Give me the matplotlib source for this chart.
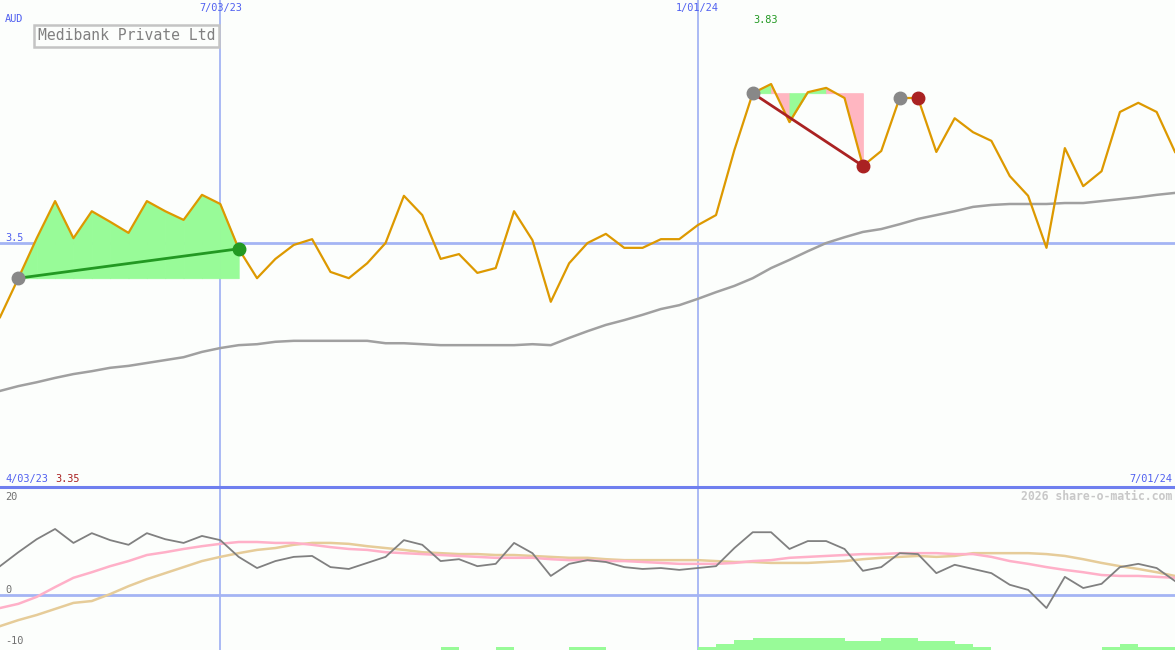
import numpy as np
import matplotlib
matplotlib.use("Agg")
import matplotlib.pyplot as plt
import matplotlib.transforms as mtrans

# Chart data (weekly points)
title = "Medibank Private Ltd"
currency = "AUD"
grid_dates = ["7/03/23", "1/01/24"]
grid_idx = [12, 38]
start_date, end_date = "4/03/23", "7/01/24"
copyright_txt = "2026 share-o-matic.com"

price = [3.346, 3.427, 3.510, 3.587, 3.510, 3.566, 3.544, 3.521, 3.587, 3.566,
         3.548, 3.600, 3.581, 3.488, 3.427, 3.467, 3.496, 3.508, 3.440, 3.427,
         3.458, 3.500, 3.598, 3.558, 3.467, 3.477, 3.438, 3.448, 3.566, 3.506,
         3.378, 3.458, 3.500, 3.519, 3.490, 3.490, 3.508, 3.508, 3.537, 3.558,
         3.693, 3.811, 3.830, 3.751, 3.813, 3.822, 3.801, 3.660, 3.691, 3.801,
         3.801, 3.689, 3.759, 3.730, 3.712, 3.639, 3.598, 3.490, 3.697, 3.618,
         3.649, 3.772, 3.791, 3.772, 3.689]

moving_avg = [3.193, 3.203, 3.211, 3.220, 3.228, 3.234, 3.241, 3.245, 3.251, 3.257,
              3.263, 3.274, 3.282, 3.288, 3.290, 3.295, 3.297, 3.297, 3.297, 3.297,
              3.297, 3.292, 3.292, 3.290, 3.288, 3.288, 3.288, 3.288, 3.288, 3.290,
              3.288, 3.303, 3.317, 3.330, 3.340, 3.351, 3.363, 3.371, 3.384, 3.398,
              3.411, 3.427, 3.448, 3.465, 3.483, 3.500, 3.512, 3.523, 3.529, 3.539,
              3.550, 3.558, 3.566, 3.575, 3.579, 3.581, 3.581, 3.581, 3.583, 3.583,
              3.587, 3.591, 3.595, 3.600, 3.604]

momentum = [6.2, 9.2, 12.0, 14.2, 11.2, 13.3, 11.8, 10.8, 13.3, 12.0,
            11.2, 12.7, 11.8, 8.2, 5.8, 7.3, 8.2, 8.4, 6.0, 5.6,
            6.9, 8.2, 11.8, 10.8, 7.3, 7.7, 6.2, 6.7, 11.2, 9.0,
            4.1, 6.7, 7.5, 7.1, 6.0, 5.6, 5.8, 5.4, 5.8, 6.2,
            10.1, 13.5, 13.5, 9.9, 11.6, 11.6, 9.9, 5.2, 6.0, 9.0,
            8.8, 4.7, 6.5, 5.6, 4.7, 2.2, 1.1, -2.8, 3.9, 1.5,
            2.4, 6.0, 6.7, 5.8, 3.0]

signal_fast = [-2.8, -1.9, -0.4, 1.7, 3.7, 4.9, 6.2, 7.3, 8.6, 9.2,
               9.9, 10.5, 11.0, 11.4, 11.4, 11.2, 11.2, 10.8, 10.3, 9.9,
               9.7, 9.2, 9.0, 8.8, 8.6, 8.4, 8.2, 8.0, 8.0, 8.0,
               7.7, 7.5, 7.5, 7.3, 7.3, 7.1, 6.9, 6.7, 6.7, 6.7,
               6.9, 7.3, 7.5, 8.0, 8.2, 8.4, 8.6, 8.8, 8.8, 9.0,
               9.0, 9.0, 8.8, 8.8, 8.2, 7.3, 6.7, 6.0, 5.4, 4.9,
               4.3, 4.1, 4.1, 3.9, 3.7]

signal_slow = [-6.7, -5.4, -4.3, -3.0, -1.7, -1.3, 0.2, 1.9, 3.4, 4.7,
               6.0, 7.3, 8.2, 9.0, 9.7, 10.1, 10.8, 11.2, 11.2, 11.0,
               10.5, 10.1, 9.7, 9.2, 9.0, 8.8, 8.8, 8.6, 8.6, 8.4,
               8.2, 8.0, 8.0, 7.7, 7.5, 7.5, 7.5, 7.5, 7.5, 7.3,
               7.1, 7.1, 6.9, 6.9, 6.9, 7.1, 7.3, 7.7, 8.0, 8.2,
               8.4, 8.2, 8.4, 9.0, 9.0, 9.0, 9.0, 8.8, 8.4, 7.7,
               6.9, 6.2, 5.6, 4.9, 4.1]

strength = [0, 0, 0, 0, 0, 0, 0, 0, 0, 0, 0, 0, 0, 0, 0, 0, 0, 0, 0, 0,
            0, 0, 0, 0, 0.65, 0, 0, 0.65, 0, 0, 0, 0.65, 0.65, 0, 0, 0, 0, 0,
            0.65, 1.3, 2.1, 2.6, 2.6, 2.6, 2.6, 2.6, 1.95, 1.95, 2.6, 2.6,
            1.95, 1.95, 1.3, 0.65, 0, 0, 0, 0, 0, 0, 0.65, 1.3, 0.65, 0.65, 0]

# trades: (entry index, exit index)
trades = [(1, 13), (41, 47)]
open_marks = [(49, 50)]

# colours
bg = "#fcfefc"
grid_c = "#a4b4f4"
blue_txt = "#5060f0"
line_c = "#dd9900"
up_c, dn_c = "palegreen", "lightpink"
win_c, loss_c = "#229922", "#aa2222"
mono = "DejaVu Sans Mono"

fig = plt.figure(figsize=(11.75, 6.5), dpi=100, facecolor=bg)
ax = fig.add_axes([0, 163 / 650, 1, 487 / 650], facecolor=bg)
ax2 = fig.add_axes([0, 0, 1, 163 / 650], facecolor=bg)

x = np.arange(len(price))
p = np.array(price)

for a in (ax, ax2):
    a.set_xlim(0, len(price) - 1)
    a.axis("off")
    for gi in grid_idx:
        a.axvline(gi, color=grid_c, lw=1.3, zorder=1)

# --- price panel ---
ax.set_ylim(2.9936, 4.0044)
ax.axhline(3.5, color=grid_c, lw=2, zorder=1)

for i0, i1 in trades:
    base = p[i0]
    for k in range(i0, i1):
        col = up_c if p[k + 1] >= base else dn_c
        ax.fill_between(x[k:k + 2], p[k:k + 2], base, facecolor=col,
                        edgecolor=col, lw=0.6, zorder=2)
    col = win_c if p[i1] > base else loss_c
    ax.plot([x[i0], x[i1]], [p[i0], p[i1]], color=col, lw=2, zorder=5)
    ax.plot(x[i0], p[i0], "o", color="#888888", ms=9, zorder=6)
    ax.plot(x[i1], p[i1], "o", color=col, ms=9, zorder=6)

for i0, i1 in open_marks:
    ax.plot(x[i0], p[i0], "o", color="#888888", ms=9, zorder=6)
    ax.plot(x[i1], p[i1], "o", color=loss_c, ms=9, zorder=6)

ax.plot(x, moving_avg, color="#a0a0a0", lw=1.8, zorder=3)
ax.plot(x, p, color=line_c, lw=1.6, zorder=4)

bt = mtrans.blended_transform_factory(ax.transData, ax.transAxes)
for gi, lab in zip(grid_idx, grid_dates):
    ax.text(gi, 1 - 8 / 487, lab, transform=bt, ha="center", va="center",
            color=blue_txt, fontsize=7.4, family=mono)

ax.text(5 / 1175, 1 - 19 / 487, currency, transform=ax.transAxes, va="center",
        color=blue_txt, fontsize=7.4, family=mono)
bt2 = mtrans.blended_transform_factory(ax.transAxes, ax.transData)
ax.text(5 / 1175, 3.5, "3.5", transform=bt2, va="bottom", color=blue_txt,
        fontsize=7.4, family=mono)

imax = int(np.argmax(p))
ax.annotate(f"{p.max():.2f}", (imax, 1 - 20 / 487), xycoords=bt, xytext=(-6, 0),
            textcoords="offset pixels", ha="center", va="center",
            color=win_c, fontsize=7.4, family=mono)

ax.text(38 / 1175, 1 - 36 / 487, title, transform=ax.transAxes, va="center",
        color="#808080", fontsize=10.6, family=mono, zorder=7,
        bbox=dict(boxstyle="square,pad=0.25", fc=bg, ec="#c4c4c4", lw=1.8))

ax.text(5 / 1175, 8 / 487, start_date, transform=ax.transAxes, va="center",
        color=blue_txt, fontsize=7.4, family=mono)
ax.text(55 / 1175, 8 / 487, f"{p.min():.2f}", transform=ax.transAxes,
        va="center", color=loss_c, fontsize=7.4, family=mono)
ax.text(1 - 3 / 1175, 8 / 487, end_date, transform=ax.transAxes, va="center",
        ha="right", color=blue_txt, fontsize=7.4, family=mono)

# --- indicator panel ---
ylo, yhi = -11.83, 23.23
ax2.set_ylim(ylo, yhi)
ax2.axhline(yhi, color="#6f7fef", lw=2.2, clip_on=False, zorder=8)
ax2.axhline(0, color=grid_c, lw=2, zorder=1)
ax2.bar(x, strength, width=1, align="edge", bottom=ylo, color=up_c, lw=0, zorder=2)
ax2.plot(x, signal_slow, color="#e6cc99", lw=1.8, zorder=3)
ax2.plot(x, signal_fast, color="#ffb0c8", lw=1.8, zorder=3)
ax2.plot(x, momentum, color="#808080", lw=1.3, zorder=4)

bt3 = mtrans.blended_transform_factory(ax2.transAxes, ax2.transData)
for val, yy, va in [("20", 20, "bottom"), ("0", 0, "bottom"), ("-10", -10, "center")]:
    ax2.text(5 / 1175, yy, val, transform=bt3, va=va, color="#707070",
             fontsize=7.4, family=mono)
ax2.text(1 - 3 / 1175, 1 - 9 / 163, copyright_txt, transform=ax2.transAxes,
         ha="right", va="center", color="#c8c8c8", fontsize=8.3,
         family=mono, weight="bold")

fig.savefig("out.png", dpi=100, facecolor=bg)
